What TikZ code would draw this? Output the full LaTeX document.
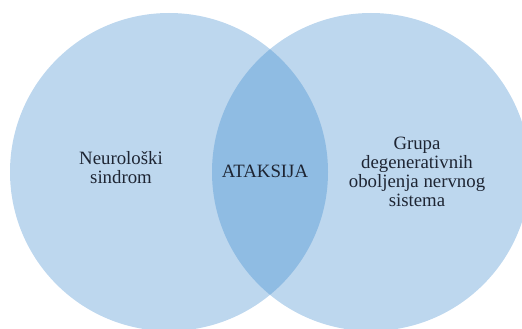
\documentclass[tikz,border=0pt]{standalone}
\usepackage{fontspec}
\setmainfont{Liberation Serif}
\definecolor{ink}{HTML}{1E2533}
\definecolor{setfill}{HTML}{BDD7EE}
\definecolor{lensfill}{HTML}{8FBCE3}
\tikzset{
  setlabel/.style={align=center,text=ink,font=\fontsize{18.8}{19}\selectfont},
}

\begin{document}
\begin{tikzpicture}[x=1pt,y=-1pt]
  \useasboundingbox (0,0) rectangle (522,329);
  \clip (0,0) rectangle (522,329);

  % Two sets and their common part.
  \coordinate (leftc) at (169,172);
  \coordinate (rightc) at (371,172);
  \fill[setfill] (leftc) circle[radius=159];
  \fill[setfill] (rightc) circle[radius=159];
  \begin{scope}
    \clip (leftc) circle[radius=159];
    \fill[lensfill] (rightc) circle[radius=159];
  \end{scope}

  \node[setlabel] (neuro) at (121,168) {Neurološki\\sindrom};
  \node[setlabel] (ataksija) at (265,171) {ATAKSIJA};
  \node[setlabel] (grupa) at (417,172)
    {Grupa\\degenerativnih\\oboljenja nervnog\\sistema};
\end{tikzpicture}
\end{document}
